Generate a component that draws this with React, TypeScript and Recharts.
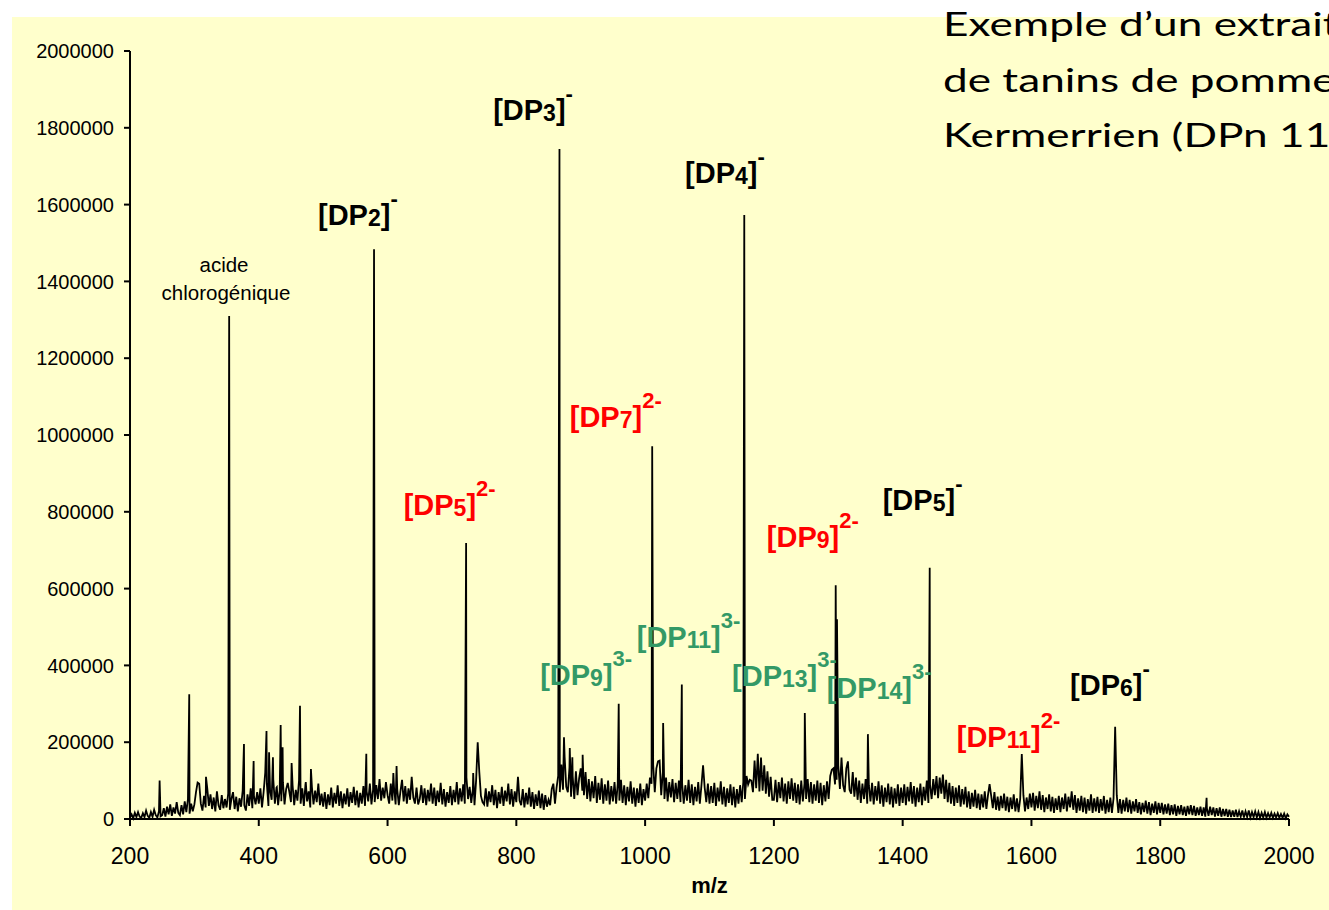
import { LineChart, Line, XAxis, YAxis, ReferenceDot } from 'recharts';

// baseline noise, one value every 2.5 m/z from 200 to 2000 (intensity in thousands)
const NOISE_FROM = 200;
const NOISE_STEP = 2.5;
const NOISE_K = [
  4, 12, 2, 16, 5, 18, 6, 3, 15, 5, 22, 8, 3, 18, 6, 24, 10, 4, 20, 7,
  10, 28, 6, 32, 12, 38, 8, 30, 14, 44, 16, 10, 36, 12, 46, 18, 52, 14, 40, 20,
  38, 70, 24, 92, 40, 22, 60, 30, 80, 34, 64, 26, 56, 20, 72, 36, 24, 62, 28, 52,
  30, 66, 24, 52, 70, 26, 58, 20, 54, 32, 74, 36, 22, 64, 34, 80, 28, 60, 38, 70,
  40, 80, 30, 70, 44, 92, 34, 76, 50, 104, 40, 82, 36, 74, 46, 96, 38, 78, 32, 70,
  44, 88, 36, 76, 48, 100, 40, 80, 34, 90, 46, 72, 30, 84, 38, 74, 44, 92, 36, 66,
  32, 70, 26, 64, 36, 82, 30, 68, 40, 88, 34, 72, 28, 66, 38, 80, 32, 70, 42, 84,
  36, 74, 30, 68, 40, 86, 34, 72, 46, 92, 38, 76, 44, 88, 52, 104, 48, 82, 54, 96,
  62, 40, 92, 48, 84, 38, 78, 36, 72, 102, 46, 86, 40, 80, 50, 110, 56, 40, 82, 38,
  52, 88, 42, 80, 36, 76, 46, 92, 40, 82, 34, 74, 44, 94, 38, 78, 32, 70, 42, 86,
  36, 76, 44, 96, 38, 80, 46, 90, 40, 108, 52, 84, 42, 78, 36, 100, 48, 122, 60, 44,
  38, 80, 32, 72, 44, 88, 36, 76, 28, 70, 40, 84, 34, 74, 46, 92, 38, 78, 32, 72,
  44, 110, 48, 36, 78, 30, 68, 38, 82, 32, 70, 26, 64, 34, 74, 28, 66, 24, 62, 32,
  50, 36, 78, 92, 40, 82, 112, 70, 142, 76, 162, 84, 70, 134, 58, 112, 52, 124, 62, 106,
  132, 74, 62, 122, 52, 104, 46, 98, 54, 112, 42, 94, 50, 106, 40, 90, 48, 100, 38, 86,
  46, 96, 40, 92, 48, 102, 42, 88, 36, 84, 46, 98, 40, 82, 32, 80, 42, 92, 36, 78,
  48, 92, 54, 108, 92, 142, 70, 132, 80, 152, 62, 122, 52, 108, 46, 96, 56, 104, 44, 94,
  52, 100, 44, 92, 40, 88, 48, 102, 42, 90, 36, 84, 46, 96, 40, 88, 34, 82, 44, 92,
  40, 86, 42, 94, 34, 82, 46, 98, 38, 84, 32, 80, 42, 90, 36, 84, 30, 78, 40, 88,
  44, 96, 52, 112, 90, 102, 100, 70, 152, 80, 170, 72, 160, 74, 140, 66, 124, 58, 110, 50,
  50, 102, 44, 96, 54, 108, 46, 92, 40, 98, 52, 106, 48, 94, 42, 90, 38, 100, 46, 92,
  52, 104, 44, 96, 40, 90, 48, 100, 42, 94, 36, 88, 46, 98, 52, 112, 74, 132, 90, 102,
  140, 78, 160, 88, 70, 132, 150, 76, 66, 122, 58, 108, 50, 100, 42, 92, 52, 104, 40, 88,
  46, 94, 38, 86, 48, 98, 40, 88, 32, 82, 44, 92, 38, 84, 30, 80, 40, 90, 34, 82,
  42, 90, 36, 84, 46, 96, 40, 86, 32, 82, 44, 92, 36, 84, 48, 100, 42, 88, 52, 104,
  62, 112, 54, 108, 66, 116, 52, 102, 44, 94, 40, 86, 34, 82, 42, 88, 32, 78, 38, 84,
  30, 72, 26, 68, 32, 76, 28, 66, 24, 64, 30, 72, 26, 62, 22, 60, 28, 70, 24, 58,
  22, 60, 28, 66, 22, 58, 18, 56, 26, 64, 20, 54, 18, 52, 24, 62, 20, 56, 26, 66,
  30, 68, 22, 60, 28, 72, 24, 62, 18, 56, 26, 64, 20, 58, 16, 54, 24, 60, 18, 56,
  26, 66, 20, 58, 30, 72, 24, 62, 16, 54, 22, 60, 18, 56, 14, 52, 22, 64, 16, 54,
  20, 58, 16, 52, 22, 60, 14, 50, 18, 56, 16, 54, 22, 62, 16, 52, 14, 50, 20, 56,
  18, 50, 14, 46, 20, 52, 16, 44, 12, 42, 18, 48, 14, 44, 10, 40, 16, 46, 12, 42,
  16, 42, 12, 38, 14, 40, 10, 36, 12, 38, 8, 34, 12, 36, 10, 32, 8, 34, 12, 36,
  10, 34, 8, 30, 10, 32, 8, 30, 6, 28, 8, 32, 10, 30, 6, 28, 8, 30, 6, 26,
  8, 26, 6, 24, 5, 22, 6, 24, 5, 20, 6, 22, 4, 20, 5, 22, 4, 18, 5, 20,
  4, 18, 3, 16, 4, 18, 3, 15, 4, 16, 3, 14, 4, 15, 3, 13, 3, 14, 2, 12,
  6,
];

// peaks above the noise
const PEAK_MZ = [
  246, 292, 305, 318, 354, 377, 392, 410, 412, 416, 422, 428, 434, 437, 445, 451,
  464, 473, 481, 567, 579, 609, 614, 722, 733, 740, 803, 867, 874, 883, 887, 903,
  959, 1011, 1020, 1028, 1057, 1090, 1154, 1248, 1290, 1296, 1298, 1346, 1442, 1535,
  1585, 1730, 1872,
];
const PEAK_K = [
  100, 325, 95, 110, 1310, 195, 151, 120, 229, 174, 161, 83, 245, 187, 94, 146,
  295, 96, 130, 170, 1484, 120, 138, 719, 120, 200, 100, 1745, 213, 185, 161, 167,
  300, 971, 150, 250, 350, 140, 1573, 276, 128, 609, 520, 221, 654, 91,
  169, 240, 55,
];

const X_TICKS = [200, 400, 600, 800, 1000, 1200, 1400, 1600, 1800, 2000];
const Y_TICKS = [0, 200000, 400000, 600000, 800000, 1000000, 1200000, 1400000, 1600000, 1800000, 2000000];

const BLACK = '#000000';
const RED = '#FF0000';
const GREEN = '#339966';

// ion labels, anchored at the left end of the text baseline (data units)
const IONS = [
  { n: '2', charge: '-', color: BLACK, mz: 492, y: 1547000 },
  { n: '3', charge: '-', color: BLACK, mz: 764, y: 1820000 },
  { n: '4', charge: '-', color: BLACK, mz: 1062, y: 1656000 },
  { n: '5', charge: '-', color: BLACK, mz: 1369, y: 805000 },
  { n: '6', charge: '-', color: BLACK, mz: 1660, y: 323000 },
  { n: '5', charge: '2-', color: RED, mz: 625, y: 792000 },
  { n: '7', charge: '2-', color: RED, mz: 883, y: 1021000 },
  { n: '9', charge: '2-', color: RED, mz: 1189, y: 708000 },
  { n: '11', charge: '2-', color: RED, mz: 1484, y: 187000 },
  { n: '9', charge: '3-', color: GREEN, mz: 837, y: 349000 },
  { n: '11', charge: '3-', color: GREEN, mz: 987, y: 448000 },
  { n: '13', charge: '3-', color: GREEN, mz: 1135, y: 346000 },
  { n: '14', charge: '3-', color: GREEN, mz: 1282, y: 315000 },
];

const FONT = '"Liberation Sans", Arial, sans-serif';

const spectrum = (() => {
  const byMz = new Map<number, number>();
  NOISE_K.forEach((v, i) => byMz.set(NOISE_FROM + i * NOISE_STEP, v * 1000));
  PEAK_MZ.forEach((m, i) => byMz.set(m, PEAK_K[i] * 1000));
  return [...byMz.entries()].sort((a, b) => a[0] - b[0]).map(([mz, intensity]) => ({ mz, intensity }));
})();

function IonLabel({ cx, cy, ion }: any) {
  return (
    <text x={cx} y={cy} fill={ion.color} fontFamily={FONT} fontWeight="bold" fontSize={29}>
      <tspan>[DP</tspan>
      <tspan fontSize={23} dy={1}>{ion.n}</tspan>
      <tspan dy={-1}>]</tspan>
      <tspan fontSize={22} dy={-19}>{ion.charge}</tspan>
    </text>
  );
}

function AcidLabel({ cx, cy }: any) {
  return (
    <text x={cx} y={cy} textAnchor="middle" fill="#000" fontFamily={FONT} fontSize={20.5}>
      <tspan x={cx}>acide</tspan>
      <tspan x={cx + 2} dy={28}>chlorogénique</tspan>
    </text>
  );
}

export default function App() {
  return (
    <div style={{ position: 'absolute', left: 0, top: 0, width: 1329, height: 910, overflow: 'hidden', background: '#fff' }}>
      <div style={{ position: 'absolute', left: 12, top: 17, right: 0, bottom: 0, background: '#FFFFCC' }} />
      <div style={{ position: 'absolute', left: 0, top: 0 }}>
        <LineChart width={1329} height={910} data={spectrum} margin={{ top: 51, right: 40, bottom: 17, left: 30 }}>
          <XAxis
            type="number"
            dataKey="mz"
            domain={[200, 2000]}
            ticks={X_TICKS}
            height={74}
            tickSize={7}
            tickMargin={22}
            axisLine={{ stroke: '#000', strokeWidth: 2 }}
            tickLine={{ stroke: '#000', strokeWidth: 2 }}
            tick={{ fill: '#000', fontSize: 23, fontFamily: FONT }}
            label={{ value: 'm/z', position: 'insideBottom', offset: 0, fill: '#000', fontSize: 22, fontWeight: 'bold', fontFamily: FONT }}
          />
          <YAxis
            type="number"
            domain={[0, 2000000]}
            ticks={Y_TICKS}
            width={100}
            tickSize={6}
            tickMargin={10}
            axisLine={{ stroke: '#000', strokeWidth: 2 }}
            tickLine={{ stroke: '#000', strokeWidth: 2 }}
            tick={{ fill: '#000', fontSize: 20, fontFamily: FONT }}
          />
          <Line
            type="linear"
            dataKey="intensity"
            stroke="#000"
            strokeWidth={1.8}
            dot={false}
            isAnimationActive={false}
          />
          <ReferenceDot
            x={346}
            y={1424000}
            r={1}
            ifOverflow="visible"
            shape={(p: any) => <AcidLabel cx={p.cx} cy={p.cy} />}
          />
          {IONS.map((ion, i) => (
            <ReferenceDot
              key={i}
              x={ion.mz}
              y={ion.y}
              r={1}
              ifOverflow="visible"
              shape={(p: any) => <IonLabel cx={p.cx} cy={p.cy} ion={ion} />}
            />
          ))}
        </LineChart>
      </div>
      <div
        style={{
          position: 'absolute',
          left: 943,
          top: -4,
          fontFamily: 'Lato, "Open Sans", sans-serif',
          fontSize: 32,
          lineHeight: '55.5px',
          color: '#000',
          whiteSpace: 'nowrap',
          transform: 'scaleX(1.38)',
          transformOrigin: 'left top',
        }}
      >
        Exemple d’un extrait
        <br />
        de tanins de pomme
        <br />
        Kermerrien (DPn 11)
      </div>
    </div>
  );
}
